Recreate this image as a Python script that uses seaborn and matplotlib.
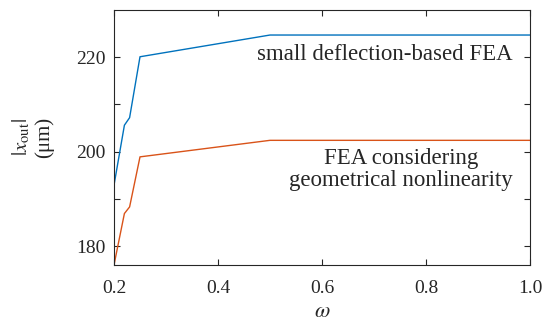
import numpy as np
import pandas as pd
import seaborn as sns
import matplotlib.pyplot as plt

omega = [0.20, 0.22, 0.23, 0.25, 0.50, 1.00]
small_fea = [192.9, 205.6, 207.2, 220.1, 224.7, 224.7]
nonlin_fea = [176.0, 186.9, 188.3, 198.9, 202.4, 202.4]

sns.set_style('ticks')
plt.rcParams['font.family'] = ['Liberation Serif', 'DejaVu Serif']
plt.rcParams['mathtext.fontset'] = 'stix'
plt.rcParams['xtick.direction'] = 'in'
plt.rcParams['ytick.direction'] = 'in'

df = pd.DataFrame({'omega': omega * 2,
                   'x': small_fea + nonlin_fea,
                   'model': ['small'] * len(omega) + ['nonlin'] * len(omega)})

fig = plt.figure(figsize=(5.47, 3.23), dpi=100)
ax = fig.add_axes([114 / 547, 1 - 265 / 323, 416 / 547, 255 / 323])
sns.lineplot(data=df, x='omega', y='x', hue='model', palette=['#0072BD', '#D95319'],
             linewidth=1.0, legend=False, ax=ax)

ax.set_xlim(0.2, 1.0)
ax.set_ylim(176, 230)
ax.set_xticks([0.2, 0.4, 0.6, 0.8, 1.0])
ax.set_xticklabels(['0.2', '0.4', '0.6', '0.8', '1.0'])
ax.set_yticks([180, 190, 200, 210, 220])
ax.set_yticklabels(['180', '', '200', '', '220'])
ax.tick_params(labelsize=14, length=4, width=0.8, colors='#262626',
               top=True, right=True, pad=6)
ax.tick_params(axis='x', pad=11)
for s in ax.spines.values():
    s.set_color('#262626')
    s.set_linewidth(0.8)

ax.set_xlabel(r'$\omega$', fontsize=16, labelpad=4)
ax.set_ylabel('$|x_{\\mathrm{out}}|$\n(μm)', fontsize=15, labelpad=16, linespacing=1.15)

ax.text(0.959, 0.824, 'small deflection-based FEA', transform=ax.transAxes,
        ha='right', va='center', fontsize=16.5)
ax.text(0.69, 0.373, 'FEA considering\ngeometrical nonlinearity', transform=ax.transAxes,
        ha='center', va='center', fontsize=16.5, linespacing=1.05)

fig.savefig('out.png', dpi=100)
